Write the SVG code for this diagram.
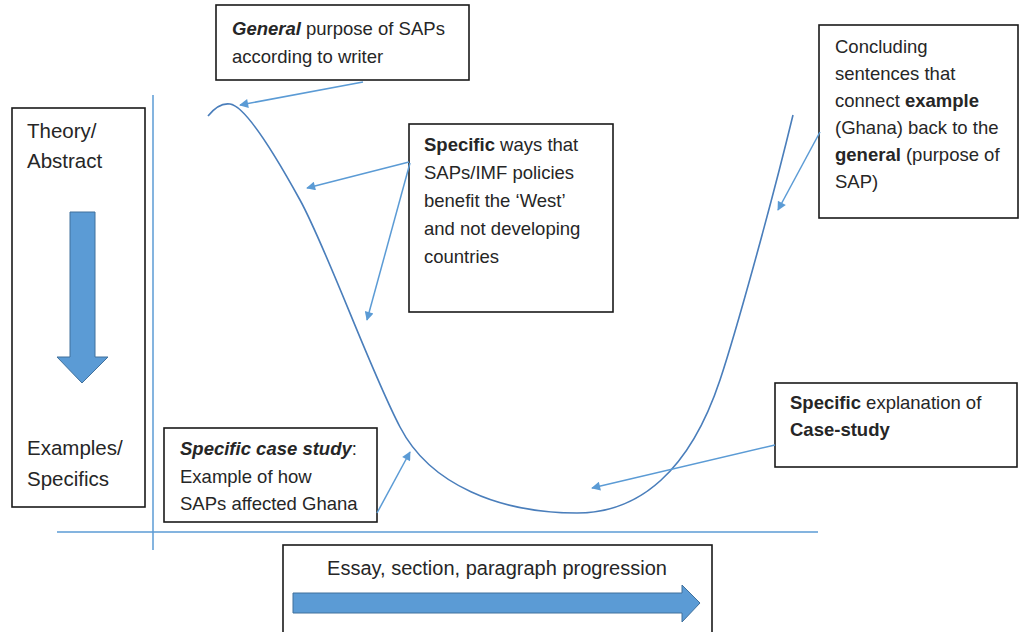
<svg xmlns="http://www.w3.org/2000/svg" width="1019" height="632" viewBox="0 0 1019 632">
<style>
text{font-family:"Liberation Sans",Arial,sans-serif;font-size:18.5px;fill:#262626}
.box{fill:#fff;stroke:#1a1a1a;stroke-width:1.6}
.ax{stroke:#5b9bd5;stroke-width:1.5;fill:none}
.cur{stroke:#4a7ebb;stroke-width:1.6;fill:none}
.con{stroke:#5b9bd5;stroke-width:1.5;fill:none;marker-end:url(#ah)}
.big{fill:#5b9bd5;stroke:#41719c;stroke-width:1}
.b{font-weight:bold}
.i{font-style:italic}
</style>
<defs>
<marker id="ah" viewBox="0 0 10 10" refX="9" refY="5" markerWidth="11" markerHeight="9" markerUnits="userSpaceOnUse" orient="auto">
<path d="M0,0 L10,5 L0,10 z" fill="#5b9bd5"/>
</marker>
</defs>
<rect width="1019" height="632" fill="#fff"/>
<g id="axes">
<line class="ax" x1="153" y1="95" x2="153" y2="550"/>
<line class="ax" x1="57" y1="532" x2="818" y2="532"/>
</g>
<g id="curve">
<path class="cur" d="M208,116 C216,106 223,103 230,104 C246,106 278,160 300,200 C327,249 370,370 400,427 C430,485 500,513 577,513 C640,513 690,470 720,380 C735,335 770,210 793,115"/>
</g>
<g id="left-scale">
<rect class="box" x="12" y="108" width="133" height="399"/>
<text x="27" y="138" style="font-size:20.5px">Theory/</text>
<text x="27" y="168" style="font-size:20.5px">Abstract</text>
<path class="big" d="M70,212 H95 V357 H108 L82,383 L57,357 H70 Z"/>
<text x="27" y="455" style="font-size:20.5px">Examples/</text>
<text x="27" y="486" style="font-size:20.5px">Specifics</text>
</g>
<g id="general">
<rect class="box" x="216" y="5" width="253" height="75"/>
<text x="232" y="35"><tspan class="b i">General</tspan> purpose of SAPs</text>
<text x="232" y="63">according to writer</text>
</g>
<g id="specific-ways">
<rect class="box" x="409" y="124" width="204" height="188"/>
<text x="424" y="151"><tspan class="b">Specific</tspan> ways that</text>
<text x="424" y="179">SAPs/IMF policies</text>
<text x="424" y="207">benefit the ‘West’</text>
<text x="424" y="235">and not developing</text>
<text x="424" y="263">countries</text>
</g>
<g id="concluding">
<rect class="box" x="819" y="25" width="199" height="193"/>
<text x="835" y="53">Concluding</text>
<text x="835" y="80">sentences that</text>
<text x="835" y="107">connect <tspan class="b">example</tspan></text>
<text x="835" y="134">(Ghana) back to the</text>
<text x="835" y="161"><tspan class="b">general</tspan> (purpose of</text>
<text x="835" y="188">SAP)</text>
</g>
<g id="case-study">
<rect class="box" x="164" y="428" width="213" height="94"/>
<text x="180" y="455"><tspan class="b i">Specific case study</tspan>:</text>
<text x="180" y="483">Example of how</text>
<text x="180" y="510">SAPs affected Ghana</text>
</g>
<g id="explanation">
<rect class="box" x="775" y="383" width="242" height="84"/>
<text x="790" y="409"><tspan class="b">Specific</tspan> explanation of</text>
<text x="790" y="436" class="b">Case-study</text>
</g>
<g id="progression">
<rect class="box" x="283" y="545" width="429" height="95"/>
<text x="497" y="575" text-anchor="middle" style="font-size:20px">Essay, section, paragraph progression</text>
<path class="big" d="M293,593 H682 V585 L700,603 L682,622 V613 H293 Z"/>
</g>
<g id="connectors">
<line class="con" x1="363" y1="82" x2="240" y2="105"/>
<line class="con" x1="409" y1="162" x2="307" y2="188"/>
<line class="con" x1="410" y1="163" x2="367" y2="320"/>
<line class="con" x1="820" y1="132" x2="778" y2="210"/>
<line class="con" x1="377" y1="513" x2="410" y2="452"/>
<line class="con" x1="775" y1="445" x2="592" y2="488"/>
</g>
</svg>
